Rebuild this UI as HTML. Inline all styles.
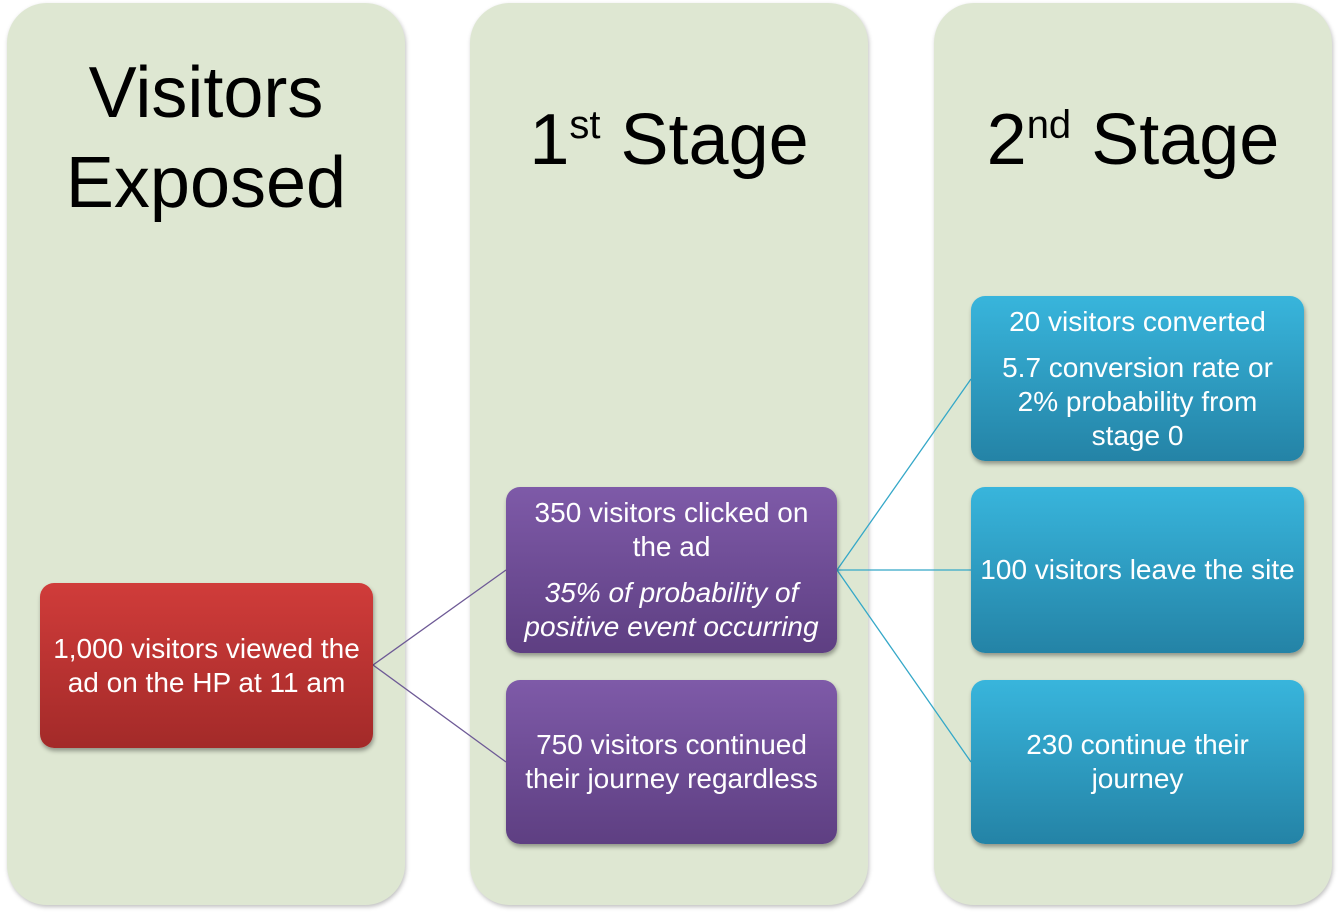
<!DOCTYPE html>
<html><head><style>
body{margin:0;width:1338px;height:915px;background:#fff;position:relative;overflow:hidden;font-family:"Liberation Sans",sans-serif;}
.col{position:absolute;top:3px;width:398px;height:902px;background:#dee7d2;border-radius:40px;box-shadow:1px 2px 4px rgba(0,0,0,0.25);}
.title{position:absolute;width:398px;text-align:center;color:#000;font-size:72px;line-height:90px;}
.box{position:absolute;border-radius:14px;color:#fff;font-size:28px;line-height:34px;text-align:center;display:flex;flex-direction:column;justify-content:center;box-shadow:1px 3px 4px rgba(0,0,0,0.35);white-space:nowrap}
.red{background:linear-gradient(#d03c3a,#a32a29);}
.pur{background:linear-gradient(#7e5aa8,#5e3f82);}
.blu{background:linear-gradient(#38b5dc,#2483a6);}
sup{font-size:40px;vertical-align:top;line-height:60px}
p{margin:6px 0}
</style></head><body>
<div class="col" style="left:7px"><div class="title" style="top:45px">Visitors<br>Exposed</div></div>
<div class="col" style="left:470px"><div class="title" style="top:92px">1<sup>st</sup> Stage</div></div>
<div class="col" style="left:934px"><div class="title" style="top:92px">2<sup>nd</sup> Stage</div></div>
<svg style="position:absolute;left:0;top:0" width="1338" height="915">
<g fill="none" stroke-width="1.3">
<path d="M373 665 L506 570 M373 665 L506 762" stroke="#6e5a96"/>
<path d="M837 570 L971 379 M837 570 L971 570 M837 570 L971 762" stroke="#35a8c8"/>
</g></svg>
<div class="box red" style="left:40px;top:583px;width:333px;height:165px"><p>1,000 visitors viewed the<br>ad on the HP at 11 am</p></div>
<div class="box pur" style="left:506px;top:487px;width:331px;height:166px"><p>350 visitors clicked on<br>the ad</p><p style="font-style:italic">35% of probability of<br>positive event occurring</p></div>
<div class="box pur" style="left:506px;top:680px;width:331px;height:164px"><p>750 visitors continued<br>their journey regardless</p></div>
<div class="box blu" style="left:971px;top:296px;width:333px;height:165px"><p>20 visitors converted</p><p>5.7 conversion rate or<br>2% probability from<br>stage 0</p></div>
<div class="box blu" style="left:971px;top:487px;width:333px;height:166px"><p>100 visitors leave the site</p></div>
<div class="box blu" style="left:971px;top:680px;width:333px;height:164px"><p>230 continue their<br>journey</p></div>
</body></html>
